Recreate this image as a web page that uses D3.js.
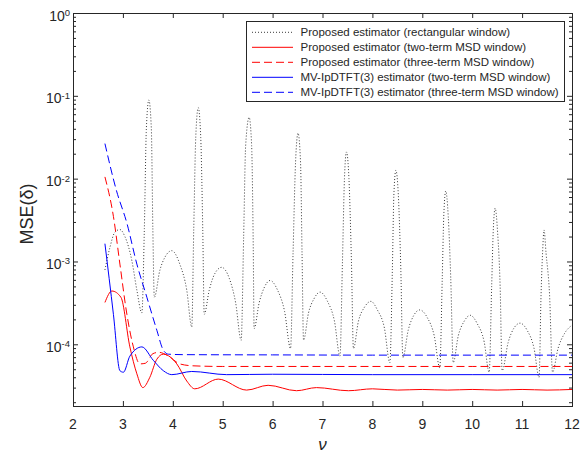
<!DOCTYPE html>
<html>
<head>
<meta charset="utf-8">
<script src="https://cdn.jsdelivr.net/npm/d3@7"></script>
<style>
  body { margin: 0; background: #fff; }
  text { font-family: "Liberation Sans", Arial, sans-serif; fill: #262626; }
</style>
</head>
<body>
<div id="chart"></div>
<script>
var w = 587;
var h = 453;

// x values (nu) and MSE values
var rectNu = [2.64, 2.74, 2.84, 2.94, 3.04, 3.18, 3.28, 3.38, 3.43, 3.47, 3.52, 3.57, 3.60, 3.63,
	3.74, 3.84, 3.98, 4.14, 4.28, 4.38, 4.42, 4.46, 4.51, 4.56, 4.60, 4.63,
	4.73, 4.84, 4.98, 5.13, 5.26, 5.37, 5.42, 5.46, 5.53, 5.58, 5.61, 5.63,
	5.73, 5.83, 5.95, 6.10, 6.24, 6.36, 6.41, 6.46, 6.51, 6.56, 6.59, 6.62,
	6.72, 6.83, 6.95, 7.10, 7.24, 7.35, 7.40, 7.44, 7.48, 7.53, 7.58, 7.62,
	7.72, 7.84, 7.97, 8.10, 8.24, 8.35, 8.40, 8.43, 8.47, 8.52, 8.57, 8.61,
	8.72, 8.83, 8.95, 9.10, 9.24, 9.35, 9.40, 9.43, 9.47, 9.52, 9.57, 9.62,
	9.72, 9.84, 9.96, 10.10, 10.24, 10.34, 10.39, 10.42, 10.46, 10.51, 10.56, 10.60,
	10.72, 10.84, 10.96, 11.10, 11.24, 11.34, 11.38, 11.41, 11.44, 11.48, 11.55, 11.61,
	11.72, 11.85, 12.0];
var rectMse = [7.9e-4, 1.48e-3, 2.26e-3, 2.43e-3, 2.0e-3, 1.02e-3, 4.5e-4, 2.4e-4, 2.5e-3, 0.04, 0.089, 0.04, 2.5e-3, 3.7e-4,
	7.8e-4, 1.12e-3, 1.35e-3, 9.3e-4, 4.5e-4, 1.62e-4, 2.5e-3, 0.0316, 0.072, 0.0316, 2.5e-3, 2.3e-4,
	4.5e-4, 7.1e-4, 8.5e-4, 6.3e-4, 3.16e-4, 1.12e-4, 2.0e-3, 0.025, 0.055, 0.025, 2.0e-3, 1.55e-4,
	3.16e-4, 4.8e-4, 5.9e-4, 4.5e-4, 2.5e-4, 8.9e-5, 1.26e-3, 0.0158, 0.0355, 0.0158, 1.26e-3, 1.12e-4,
	2.4e-4, 3.55e-4, 4.27e-4, 3.3e-4, 1.9e-4, 7.2e-5, 1e-3, 0.01, 0.021, 0.01, 1e-3, 8.9e-5,
	1.9e-4, 2.8e-4, 3.3e-4, 2.6e-4, 1.58e-4, 6.0e-5, 7.9e-4, 6.3e-3, 0.0126, 6.3e-3, 7.9e-4, 6.9e-5,
	1.5e-4, 2.24e-4, 2.6e-4, 2.1e-4, 1.26e-4, 5.2e-5, 6.3e-4, 3.5e-3, 7.1e-3, 3.5e-3, 6.3e-4, 6.0e-5,
	1.26e-4, 1.9e-4, 2.24e-4, 1.78e-4, 1.07e-4, 4.6e-5, 5.0e-4, 2.2e-3, 4.4e-3, 2.2e-3, 5.0e-4, 4.8e-5,
	1.05e-4, 1.58e-4, 1.8e-4, 1.48e-4, 8.9e-5, 4.0e-5, 4.0e-4, 1.26e-3, 2.4e-3, 1.26e-3, 4.0e-4, 4.6e-5,
	8.9e-5, 1.35e-4, 1.7e-4];

var prop2Nu = [2.64, 2.78, 2.96, 3.14, 3.28, 3.40, 3.54, 3.68, 3.81, 4.08, 4.28, 4.44, 4.91, 5.48, 5.91,
	6.48, 6.88, 7.52, 8.0, 8.5, 9.0, 9.5, 10.0, 10.5, 11.0, 11.5, 12.0];
var prop2Mse = [3.2e-4, 4.4e-4, 3.7e-4, 9.3e-5, 4.4e-5, 3.0e-5, 4.0e-5, 6.6e-5, 7.6e-5, 5.8e-5, 3.6e-5, 2.9e-5, 3.8e-5, 2.8e-5, 3.2e-5,
	2.75e-5, 3.0e-5, 2.75e-5, 2.9e-5, 2.8e-5, 2.85e-5, 2.8e-5, 2.85e-5, 2.8e-5, 2.85e-5, 2.8e-5, 2.85e-5];

var prop3Nu = [2.64, 2.81, 2.94, 3.08, 3.21, 3.34, 3.45, 3.60, 3.72, 3.90, 4.14, 4.40, 5.0, 6.0, 8.0, 10.0, 12.0];
var prop3Mse = [1.05e-2, 3.5e-3, 9.3e-4, 2.3e-4, 9.3e-5, 5.8e-5, 5.9e-5, 7.7e-5, 8.0e-5, 7.3e-5, 5.8e-5, 5.5e-5, 5.4e-5, 5.4e-5, 5.4e-5, 5.4e-5, 5.4e-5];

var mv2Nu = [2.64, 2.81, 2.94, 3.01, 3.14, 3.38, 3.61, 3.81, 3.98, 4.38, 5.08, 6.0, 8.0, 10.0, 12.0];
var mv2Mse = [1.64e-3, 2.3e-4, 4.8e-5, 4.6e-5, 7.2e-5, 9.3e-5, 6.4e-5, 4.8e-5, 4.3e-5, 4.7e-5, 4.3e-5, 4.35e-5, 4.3e-5, 4.3e-5, 4.3e-5];

var mv3Nu = [2.64, 2.87, 3.08, 3.28, 3.48, 3.68, 3.81, 3.91, 4.2, 6.0, 8.0, 10.0, 12.0];
var mv3Mse = [2.65e-2, 7.2e-3, 2.9e-3, 9.3e-4, 3.7e-4, 1.48e-4, 8.5e-5, 7.6e-5, 7.5e-5, 7.45e-5, 7.4e-5, 7.4e-5, 7.4e-5];

var xTicks = [2, 3, 4, 5, 6, 7, 8, 9, 10, 11, 12];
var yExps = [0, -1, -2, -3, -4];
var legendLabels = [
	'Proposed estimator (rectangular window)',
	'Proposed estimator (two-term MSD window)',
	'Proposed estimator (three-term MSD window)',
	'MV-IpDTFT(3) estimator (two-term MSD window)',
	'MV-IpDTFT(3) estimator (three-term MSD window)'
];

var plotL = 73, plotR = 572, plotT = 13, plotB = 406;
var axisColor = '#262626';

var x = d3.scaleLinear().domain([2, 12]).range([plotL, plotR]);
var y = d3.scaleLog().domain([Math.pow(10, -4.745), 1]).range([plotB, plotT]);

var svg = d3.select('#chart')
	.append('svg')
	.attr('width', w)
	.attr('height', h);

var series = [
	{ nu: rectNu, mse: rectMse, color: '#3a3a3a', dash: '1,2' },
	{ nu: prop2Nu, mse: prop2Mse, color: '#ff0000', dash: null },
	{ nu: prop3Nu, mse: prop3Mse, color: '#ff0000', dash: '8,4' },
	{ nu: mv2Nu, mse: mv2Mse, color: '#0000ff', dash: null },
	{ nu: mv3Nu, mse: mv3Mse, color: '#0000ff', dash: '8,4' }
];

var lineFn = d3.line()
	.x(function (d) { return x(d[0]); })
	.y(function (d) { return y(d[1]); })
	.curve(d3.curveMonotoneX);

svg.append('defs').append('clipPath').attr('id', 'clip')
	.append('rect')
	.attr('x', plotL).attr('y', plotT)
	.attr('width', plotR - plotL).attr('height', plotB - plotT);

var plot = svg.append('g').attr('clip-path', 'url(#clip)');

plot.selectAll('path.series')
	.data(series)
	.enter()
	.append('path')
	.attr('class', 'series')
	.attr('d', function (s) { return lineFn(d3.zip(s.nu, s.mse)); })
	.attr('fill', 'none')
	.attr('stroke', function (s) { return s.color; })
	.attr('stroke-width', 1)
	.attr('stroke-dasharray', function (s) { return s.dash; });

// minor ticks for log axis
var minor = [];
for (var e = -5; e < 0; e++) {
	for (var k = 2; k <= 9; k++) {
		var v = k * Math.pow(10, e);
		if (v >= y.domain()[0] && v <= 1) minor.push(v);
	}
}
var major = yExps.map(function (p) { return Math.pow(10, p); });

svg.append('g')
	.attr('transform', 'translate(0,' + plotB + ')')
	.call(d3.axisBottom(x).tickValues(xTicks).tickSize(-5).tickFormat(''));
svg.append('g')
	.attr('transform', 'translate(0,' + plotT + ')')
	.call(d3.axisTop(x).tickValues(xTicks).tickSize(-5).tickFormat(''));
svg.append('g')
	.attr('transform', 'translate(' + plotL + ',0)')
	.call(d3.axisLeft(y).tickValues(major).tickSize(-5).tickFormat(''));
svg.append('g')
	.attr('transform', 'translate(' + plotR + ',0)')
	.call(d3.axisRight(y).tickValues(major).tickSize(-5).tickFormat(''));
svg.append('g')
	.attr('transform', 'translate(' + plotL + ',0)')
	.call(d3.axisLeft(y).tickValues(minor).tickSize(-3).tickFormat(''));
svg.append('g')
	.attr('transform', 'translate(' + plotR + ',0)')
	.call(d3.axisRight(y).tickValues(minor).tickSize(-3).tickFormat(''));

svg.selectAll('.domain').remove();
svg.selectAll('.tick line').attr('stroke', axisColor);

// box
svg.append('rect')
	.attr('x', plotL + 0.5).attr('y', plotT + 0.5)
	.attr('width', plotR - plotL).attr('height', plotB - plotT)
	.attr('fill', 'none')
	.attr('stroke', axisColor)
	.attr('stroke-width', 1);

// x tick labels
svg.selectAll('text.xlab')
	.data(xTicks)
	.enter()
	.append('text')
	.attr('class', 'xlab')
	.attr('x', function (d) { return x(d); })
	.attr('y', plotB + 23)
	.attr('text-anchor', 'middle')
	.attr('font-size', '14px')
	.text(function (d) { return d; });

// y tick labels 10^p
var ylab = svg.selectAll('text.ylab')
	.data(yExps)
	.enter()
	.append('text')
	.attr('class', 'ylab')
	.attr('x', plotL - 3)
	.attr('y', function (d) { return y(Math.pow(10, d)) + 7.5; })
	.attr('text-anchor', 'end')
	.attr('font-size', '14px');
ylab.append('tspan').text('10');
ylab.append('tspan')
	.attr('dy', -4.5)
	.attr('font-size', '9.5px')
	.text(function (d) { return d === 0 ? '0' : '-' + (-d); });

// axis labels
svg.append('text')
	.attr('transform', 'translate(33,214) rotate(-90)')
	.attr('text-anchor', 'middle')
	.attr('font-size', '18px')
	.text('MSE(δ)');

svg.append('text')
	.attr('x', (plotL + plotR) / 2)
	.attr('y', 450)
	.attr('text-anchor', 'middle')
	.attr('font-size', '17px')
	.attr('font-style', 'italic')
	.attr('font-family', '"Liberation Serif", "Times New Roman", serif')
	.text('ν');

// legend
var lg = svg.append('g');
lg.append('rect')
	.attr('x', 246.5).attr('y', 21.5)
	.attr('width', 318).attr('height', 80)
	.attr('fill', '#fff')
	.attr('stroke', axisColor)
	.attr('stroke-width', 1);

var rows = lg.selectAll('g.row')
	.data(series)
	.enter()
	.append('g')
	.attr('class', 'row')
	.attr('transform', function (d, i) { return 'translate(0,' + (32.3 + i * 15) + ')'; });
rows.append('line')
	.attr('x1', 252).attr('x2', 293)
	.attr('y1', 0).attr('y2', 0)
	.attr('stroke', function (s) { return s.color; })
	.attr('stroke-width', 1)
	.attr('stroke-dasharray', function (s) { return s.dash; });
rows.append('text')
	.attr('x', 300.5)
	.attr('y', 4)
	.attr('font-size', '11.5px')
	.attr('fill', '#000')
	.text(function (d, i) { return legendLabels[i]; });
</script>
</body>
</html>
